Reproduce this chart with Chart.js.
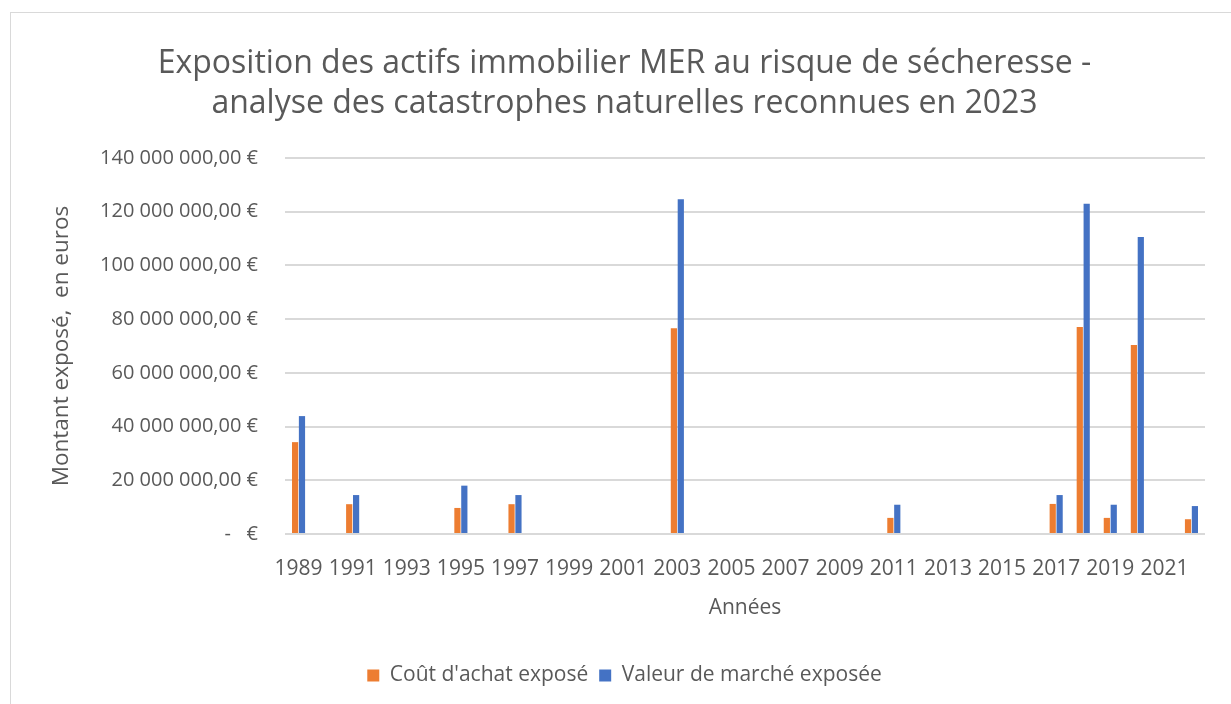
<!DOCTYPE html>
<html>
<head>
<meta charset="utf-8">
<script src="https://cdn.jsdelivr.net/npm/chart.js@4"></script>
<style>
  html, body { margin: 0; padding: 0; background: #fff; }
  body { width: 1231px; height: 704px; overflow: hidden; position: relative; }
  .frame {
    position: absolute; left: 10px; top: 12px; width: 1240px; height: 720px;
    border: 1.5px solid #d9d9d9; box-sizing: border-box;
  }
  .wrap { position: absolute; left: 0; top: 0; width: 1231px; height: 704px; }
</style>
</head>
<body>
<div class="frame"></div>
<div class="wrap"><canvas id="chart"></canvas></div>
<script>
// Years on the category axis (1989..2022)
const years = ['1989','1990','1991','1992','1993','1994','1995','1996','1997','1998',
  '1999','2000','2001','2002','2003','2004','2005','2006','2007','2008',
  '2009','2010','2011','2012','2013','2014','2015','2016','2017','2018',
  '2019','2020','2021','2022'];

// Coût d'achat exposé (euros)
const coutAchat = [34200000, null, 11100000, null, null, null, 9700000, null, 11100000, null,
  null, null, null, null, 76600000, null, null, null, null, null,
  null, null, 6000000, null, null, null, null, null, 11200000, 77100000,
  6000000, 70400000, null, 5500000];

// Valeur de marché exposée (euros)
const valeurMarche = [43900000, null, 14500000, null, null, null, 18000000, null, 14500000, null,
  null, null, null, null, 124600000, null, null, null, null, null,
  null, null, 10900000, null, null, null, null, null, 14500000, 123000000,
  10900000, 110600000, null, 10400000];

const yTicks = [0, 20000000, 40000000, 60000000, 80000000, 100000000, 120000000, 140000000];

const seriesNames = ["Coût d'achat exposé", 'Valeur de marché exposée'];
const titleLines = ['Exposition des actifs immobilier MER au risque de sécheresse -',
  'analyse des catastrophes naturelles reconnues en 2023'];

const TEXT = '#595959';
const FONT = "'Open Sans', 'Noto Sans', sans-serif";

function euro(v) {
  if (v === 0) return '-   €';
  const s = String(Math.round(v)).replace(/\B(?=(\d{3})+(?!\d))/g, ' ');
  return s + ',00 €';
}

new Chart(document.getElementById('chart'), {
  type: 'bar',
  data: {
    labels: years,
    datasets: [
      { label: seriesNames[0], data: coutAchat, backgroundColor: '#ed7d31',
        categoryPercentage: 0.51, barPercentage: 0.9 },
      { label: seriesNames[1], data: valeurMarche, backgroundColor: '#4472c4',
        categoryPercentage: 0.51, barPercentage: 0.9 }
    ]
  },
  options: {
    responsive: true,
    maintainAspectRatio: false,
    animation: false,
    layout: { padding: { left: 22, right: 4, top: 0, bottom: 8 } },
    plugins: {
      title: {
        display: true,
        text: titleLines,
        color: TEXT,
        font: { family: FONT, size: 32, weight: 'normal', lineHeight: 1.25 },
        padding: { top: 44, bottom: 34 }
      },
      legend: {
        position: 'bottom',
        labels: {
          color: TEXT,
          font: { family: FONT, size: 21 },
          boxWidth: 12, boxHeight: 12,
          padding: 11
        }
      },
      tooltip: { enabled: false }
    },
    scales: {
      x: {
        grid: { display: false },
        border: { display: false },
        ticks: {
          color: TEXT,
          font: { family: FONT, size: 21 },
          autoSkip: false,
          maxRotation: 0,
          padding: 14,
          callback: (v, i) => (i % 2 === 0 ? years[i] : '')
        },
        title: {
          display: true, text: 'Années', color: TEXT,
          font: { family: FONT, size: 21 },
          padding: { top: 0, bottom: 33 }
        },
        afterFit: (s) => { s.height = 120; }
      },
      y: {
        min: 0, max: 140000000,
        grid: { color: '#d9d9d9', lineWidth: 2, drawTicks: false },
        border: { display: false },
        afterBuildTicks: (s) => { s.ticks = yTicks.map(v => ({ value: v })); },
        ticks: {
          color: TEXT,
          font: { family: FONT, size: 20 },
          padding: 27,
          callback: (v) => euro(v)
        },
        title: {
          display: true, text: 'Montant exposé,  en euros', color: TEXT,
          font: { family: FONT, size: 22.5 },
          padding: { top: 26, bottom: 0 }
        },
        afterFit: (s) => { s.width = 263; }
      },
      // empty right-hand gutter so the plot ends where the original does
      yRight: {
        position: 'right',
        grid: { display: false },
        border: { display: false },
        ticks: { display: false },
        afterFit: (s) => { s.width = 22; }
      }
    }
  }
});
</script>
</body>
</html>
